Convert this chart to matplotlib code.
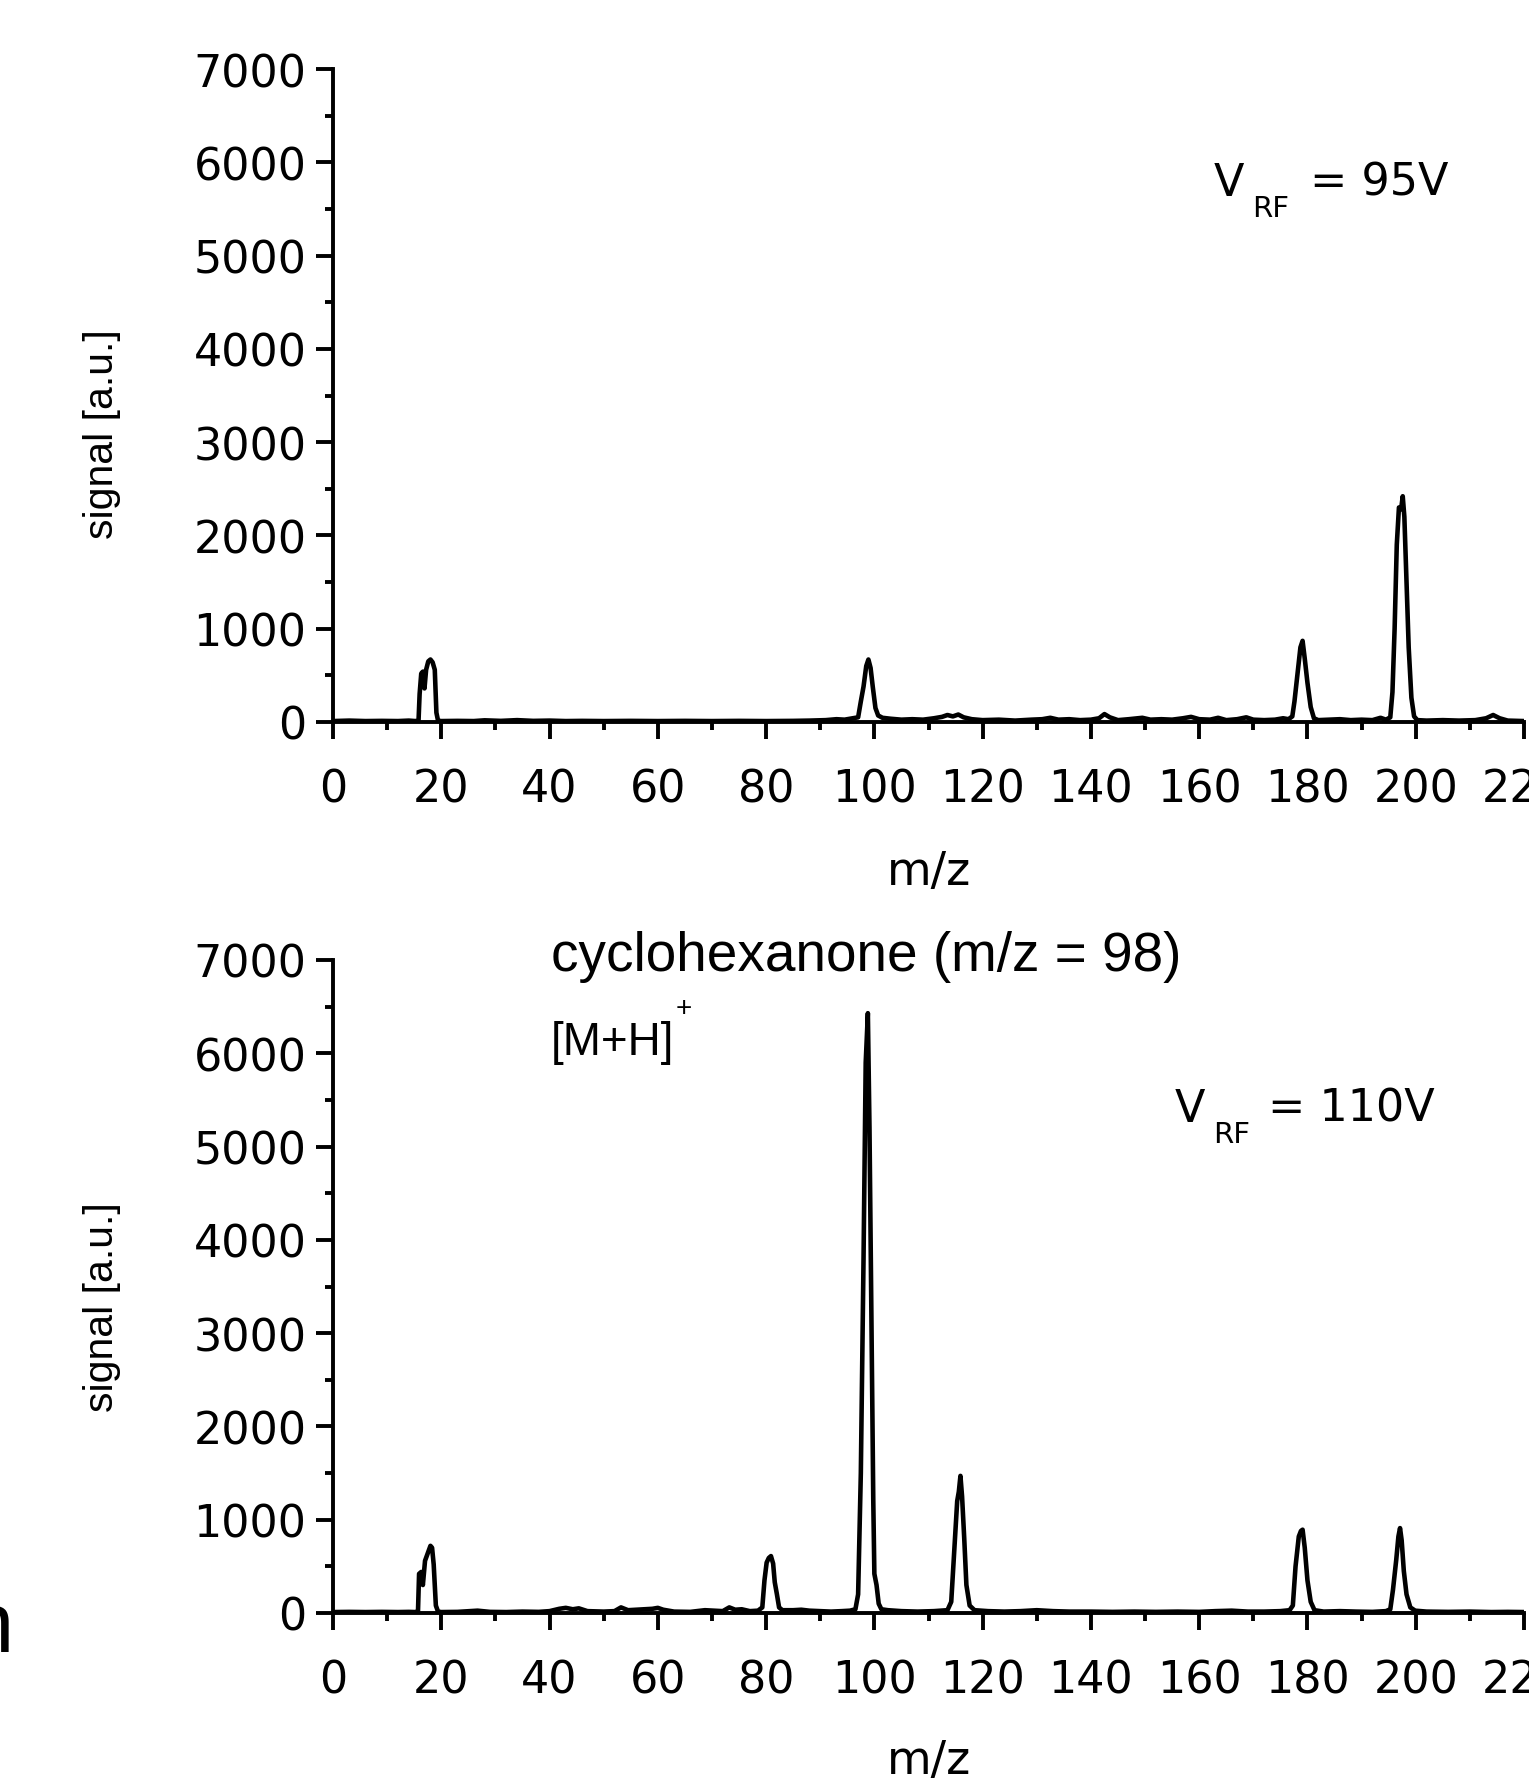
import matplotlib
matplotlib.use("Agg")
import matplotlib.pyplot as plt
from matplotlib import font_manager
from matplotlib.ticker import MultipleLocator


# spectrum at V_RF = 95 V  (m/z, signal)
mz_95 = [0, 3, 6, 9, 12, 14, 15.2, 15.8, 16.0, 16.3,
         16.6, 16.9, 17.2, 17.6, 18.0, 18.4, 18.8, 19.1, 19.4, 20,
         23, 26, 28, 31, 34, 37, 40, 43, 46, 50,
         55, 60, 65, 70, 75, 80, 85, 88, 91, 93,
         94.5, 96, 97.0, 97.5, 98.0, 98.5, 98.9, 99.3, 99.7, 100.2,
         100.7, 101.5, 103, 105, 107, 109, 111, 112.5, 113.5, 114.5,
         115.5, 116.5, 118, 120, 123, 126, 129, 131, 132.5, 134,
         136, 138, 140, 141.5, 142.5, 143.5, 145, 147, 149.5, 151,
         153, 155, 157, 158.5, 160, 162, 163.5, 165, 167, 168.7,
         170, 172, 174, 175.5, 176.5, 177.2, 177.6, 178.2, 178.7, 179.1,
         179.5, 180.0, 180.6, 181.2, 182, 184, 186, 188, 190, 192,
         193.5, 194.5, 195.3, 195.7, 196.1, 196.5, 196.9, 197.3, 197.6, 197.9,
         198.3, 198.7, 199.2, 199.7, 200.3, 202, 205, 208, 211, 213,
         214.3, 215.5, 217, 220]
sig_95 = [10, 15, 10, 12, 10, 15, 10, 15, 300, 520,
          540, 360, 560, 650, 670, 640, 560, 100, 15, 10,
          12, 10, 18, 12, 20, 12, 15, 10, 12, 10,
          12, 10, 12, 10, 12, 10, 12, 15, 20, 30,
          25, 40, 50, 220, 380, 600, 670, 580, 380, 150,
          70, 45, 35, 25, 30, 25, 40, 55, 75, 60,
          80, 50, 30, 20, 25, 15, 25, 30, 45, 25,
          30, 20, 25, 40, 85, 50, 20, 30, 45, 25,
          30, 25, 40, 55, 30, 25, 45, 20, 30, 50,
          25, 20, 25, 40, 30, 60, 220, 540, 800, 870,
          680, 420, 160, 40, 20, 25, 30, 20, 25, 20,
          45, 25, 50, 320, 1000, 1900, 2300, 2280, 2420, 2200,
          1500, 800, 260, 60, 20, 15, 20, 15, 20, 40,
          75, 40, 15, 10]

# spectrum at V_RF = 110 V  (m/z, signal)
mz_110 = [0, 3, 6, 9, 12, 14, 15.2, 15.7, 15.9, 16.3,
          16.6, 17.0, 17.5, 18.0, 18.3, 18.6, 19.0, 19.4, 20, 23,
          26.7, 29, 32, 35, 38, 40, 41.8, 43, 44.3, 45.4,
          47, 50, 52, 53.2, 54.5, 56, 57.5, 59, 60, 61,
          63, 66, 68.7, 70.5, 72, 73.2, 74.3, 75.5, 77, 78.5,
          79.3, 79.7, 80.1, 80.5, 80.9, 81.3, 81.6, 82.0, 82.4, 83,
          85, 86.5, 88, 90, 92, 94, 95.5, 96.5, 97.0, 97.5,
          98.0, 98.4, 98.8, 99.1, 99.4, 99.8, 100.0, 100.4, 100.8, 101.3,
          102.5, 105, 108, 111, 113.5, 114.2, 114.8, 115.3, 115.6, 115.9,
          116.2, 116.6, 117.0, 117.6, 118.5, 121, 124, 127, 130, 133,
          136, 140, 144, 148, 152, 156, 160, 163, 166, 169,
          172, 175, 176.7, 177.3, 177.8, 178.4, 178.8, 179.1, 179.5, 180.0,
          180.6, 181.3, 183, 186, 189, 192, 194.5, 195.3, 195.8, 196.4,
          196.8, 197.1, 197.4, 197.8, 198.3, 199.0, 199.9, 202, 206, 210,
          214, 217, 220]
sig_110 = [10, 12, 10, 12, 10, 12, 10, 20, 420, 440,
           300, 560, 640, 720, 700, 520, 80, 15, 10, 12,
           25, 12, 10, 15, 12, 20, 45, 55, 40, 50,
           20, 15, 20, 60, 30, 35, 40, 45, 55, 35,
           15, 12, 30, 25, 20, 60, 35, 40, 20, 25,
           60, 350, 540, 590, 610, 530, 330, 200, 60, 30,
           30, 35, 25, 20, 15, 20, 25, 40, 200, 1500,
           3800, 5900, 6430, 5200, 3500, 1200, 420, 300, 100, 40,
           30, 20, 15, 20, 30, 120, 700, 1200, 1300, 1470,
           1250, 800, 300, 80, 30, 20, 15, 20, 30, 20,
           15, 15, 12, 15, 12, 15, 12, 20, 25, 15,
           15, 20, 30, 80, 500, 820, 880, 893, 700, 350,
           120, 30, 15, 20, 15, 12, 20, 40, 250, 570,
           820, 910, 780, 450, 200, 60, 25, 15, 12, 15,
           10, 12, 10]

x_ticks = [0, 20, 40, 60, 80, 100, 120, 140, 160, 180, 200, 220]
y_ticks = [0, 1000, 2000, 3000, 4000, 5000, 6000, 7000]

W, H = 1529, 1781
fig = plt.figure(figsize=(W / 100, H / 100), dpi=100)

avail = {f.name for f in font_manager.fontManager.ttflist}
if 'Liberation Sans Narrow' in avail:
    narrow, s_lab, s_mh = 'Liberation Sans Narrow', 35, 36
else:
    narrow, s_lab, s_mh = 'Liberation Sans', 29.5, 33
wide = 'DejaVu Sans'
arial = 'Liberation Sans'


def fx(px):
    return px / W


def fy(py):
    return 1 - py / H


def make_axes(top_px, bot_px, mz, sig):
    ax = fig.add_axes([fx(333), fy(bot_px), fx(1524) - fx(333), fy(top_px) - fy(bot_px)])
    ax.plot(mz, sig, color='black', lw=3.3, solid_joinstyle='round')
    ax.set_xlim(0, 220)
    ax.set_ylim(0, 7000)
    ax.set_xticks(x_ticks)
    ax.set_yticks(y_ticks)
    ax.xaxis.set_minor_locator(MultipleLocator(10))
    ax.yaxis.set_minor_locator(MultipleLocator(500))
    for s in ['top', 'right']:
        ax.spines[s].set_visible(False)
    for s in ['left', 'bottom']:
        ax.spines[s].set_linewidth(2.8)
    ax.tick_params(which='major', direction='out', length=12, width=2.8)
    ax.tick_params(which='minor', direction='out', length=6, width=2.8)
    ax.tick_params(axis='x', which='major', pad=21)
    ax.tick_params(axis='y', which='major', pad=7)
    for lab in ax.get_xticklabels() + ax.get_yticklabels():
        lab.set_fontfamily(wide)
        lab.set_fontsize(32)
    return ax


ax1 = make_axes(70, 723, mz_95, sig_95)
ax2 = make_axes(961, 1614, mz_110, sig_110)

# axis titles
fig.text(fx(102), fy(434), 'signal [a.u.]', rotation=90, ha='center', va='center',
         family=narrow, fontsize=s_lab)
fig.text(fx(102), fy(1307), 'signal [a.u.]', rotation=90, ha='center', va='center',
         family=narrow, fontsize=s_lab)
fig.text(fx(929), fy(873), 'm/z', ha='center', va='center', family=wide, fontsize=33)
fig.text(fx(929), fy(1762), 'm/z', ha='center', va='center', family=wide, fontsize=33)

# V_RF annotations
fig.text(fx(1214), fy(196), 'V', family=wide, fontsize=32, va='baseline')
fig.text(fx(1252), fy(217), 'RF', family=wide, fontsize=21, va='baseline')
fig.text(fx(1310), fy(196), '= 95V', family=wide, fontsize=32, va='baseline')

fig.text(fx(1175), fy(1122), 'V', family=wide, fontsize=32, va='baseline')
fig.text(fx(1213), fy(1143), 'RF', family=wide, fontsize=21, va='baseline')
fig.text(fx(1268), fy(1122), '= 110V', family=wide, fontsize=32, va='baseline')

# compound labels
fig.text(fx(551), fy(971), 'cyclohexanone (m/z = 98)', family=arial, fontsize=39.5,
         va='baseline')
fig.text(fx(551), fy(1055), '[M+H]', family=narrow, fontsize=s_mh, va='baseline')
fig.text(fx(676), fy(1016), '+', family=arial, fontsize=20, va='baseline')

# cropped remnant of a letter at the left edge
fig.text(fx(14), fy(1652), 'n', family=arial, fontsize=61, ha='right',
         va='baseline')

fig.savefig('out.png', dpi=100)
